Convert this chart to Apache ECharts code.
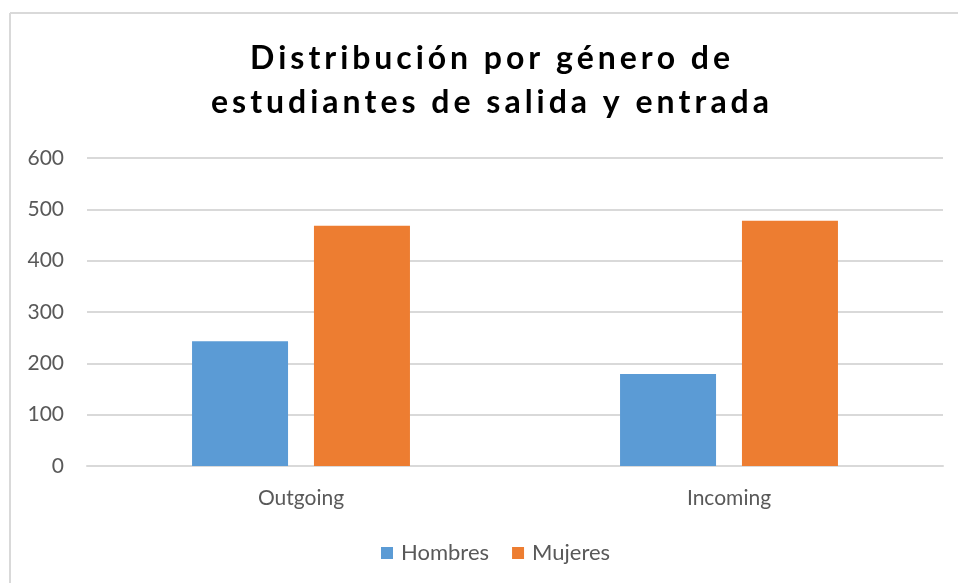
<!DOCTYPE html>
<html>
<head>
<meta charset="utf-8">
<script src="https://cdn.jsdelivr.net/npm/echarts@6/dist/echarts.min.js"></script>
<style>
html,body{margin:0;padding:0;background:#fff;}
#chart{width:958px;height:583px;}
</style>
</head>
<body>
<div id="chart"></div>
<script>
const categories = ['Outgoing', 'Incoming'];
const hombres = [243, 179];
const mujeres = [468, 478];
const seriesNames = ['Hombres', 'Mujeres'];
const titleLines = ['Distribución por género de', 'estudiantes de salida y entrada'];

const labelColor = '#595959';
const font = 'Lato';
const titleFont = 'bold 32px Lato';

// Spaced-out title (emulates the letter-spacing of the original)
function spacedTitle(text, centerX, y, width) {
  const ctx = document.createElement('canvas').getContext('2d');
  ctx.font = titleFont;
  const chars = Array.from(text);
  const widths = chars.map(c => ctx.measureText(c).width);
  const total = widths.reduce((a, b) => a + b, 0);
  const gap = (width - total) / (chars.length - 1);
  let x = centerX - width / 2;
  const els = [];
  chars.forEach((c, i) => {
    if (c !== ' ') {
      els.push({ type: 'text', x: x, y: y, silent: true,
        style: { text: c, font: titleFont, fill: '#000', textAlign: 'left', textVerticalAlign: 'middle' } });
    }
    x += widths[i] + gap;
  });
  return els;
}

const chart = echarts.init(document.getElementById('chart'));
chart.setOption({
  animation: false,
  backgroundColor: '#fff',
  color: ['#5B9BD5', '#ED7D31'],
  graphic: [
    { type: 'line', shape: { x1: 10, y1: 13, x2: 958, y2: 13 }, style: { stroke: '#d9d9d9', lineWidth: 2 } },
    { type: 'line', shape: { x1: 10, y1: 13, x2: 10, y2: 583 }, style: { stroke: '#d9d9d9', lineWidth: 2 } }
  ].concat(spacedTitle(titleLines[0], 490, 59, 480))
   .concat(spacedTitle(titleLines[1], 490, 103, 558)),
  legend: {
    data: seriesNames,
    left: 376,
    top: 537,
    itemWidth: 12,
    itemHeight: 12,
    itemGap: 23,
    icon: 'rect',
    textStyle: { fontFamily: font, fontSize: 22, color: labelColor, padding: [0, 0, 0, 3] }
  },
  grid: { left: 87, right: 15, top: 158, bottom: 117, containLabel: false },
  xAxis: {
    type: 'category',
    data: categories,
    axisLine: { lineStyle: { color: '#d9d9d9', width: 2 } },
    axisTick: { show: false },
    axisLabel: { fontFamily: font, fontSize: 21, color: labelColor, margin: 22 }
  },
  yAxis: {
    type: 'value',
    min: 0,
    max: 600,
    interval: 100,
    axisLine: { show: false },
    axisTick: { show: false },
    axisLabel: { fontFamily: font, fontSize: 21, color: labelColor, margin: 23 },
    splitLine: { lineStyle: { color: '#d9d9d9', width: 2 } }
  },
  series: [
    { name: seriesNames[0], type: 'bar', data: hombres, barWidth: 96, barGap: '27%' },
    { name: seriesNames[1], type: 'bar', data: mujeres, barWidth: 96, barGap: '27%' }
  ]
});
</script>
</body>
</html>
